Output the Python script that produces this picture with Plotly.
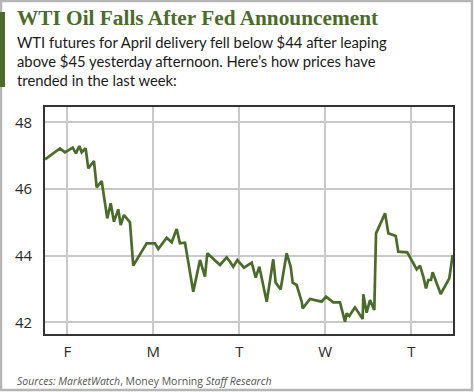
import plotly.graph_objects as go

# ---- data ----
day_pos = [0.741, 0.915, 0.973, 1.063, 1.101, 1.140, 1.167, 1.214, 1.244, 1.310,
           1.342, 1.400, 1.465, 1.505, 1.543, 1.593, 1.621, 1.659, 1.729, 1.767,
           1.923, 2.020, 2.058, 2.156, 2.214, 2.272, 2.310, 2.369, 2.465, 2.543,
           2.601, 2.628, 2.776, 2.853, 2.892, 2.930, 2.977, 3.055, 3.144, 3.191,
           3.233, 3.319, 3.395, 3.423, 3.481, 3.551, 3.598, 3.621, 3.667, 3.726,
           3.737, 3.822, 3.958, 4.008, 4.093, 4.171, 4.229, 4.249, 4.279, 4.345,
           4.435, 4.442, 4.481, 4.520, 4.570, 4.590, 4.695, 4.733, 4.819, 4.849,
           4.953, 5.063, 5.101, 5.140, 5.171, 5.198, 5.229, 5.248, 5.342, 5.442,
           5.481]
price = [46.89, 47.22, 47.10, 47.24, 47.07, 47.29, 47.10, 47.22, 46.62, 46.84,
         46.05, 46.24, 45.12, 45.57, 45.02, 45.39, 44.92, 45.22, 45.00, 43.70,
         44.37, 44.37, 44.20, 44.54, 44.40, 44.80, 44.37, 44.39, 42.92, 43.87,
         43.37, 44.07, 43.72, 43.95, 43.82, 43.67, 43.87, 43.64, 43.79, 43.34,
         43.67, 42.62, 43.89, 43.19, 42.99, 44.07, 43.67, 43.19, 43.12, 42.62,
         42.42, 42.70, 42.62, 42.77, 42.60, 42.60, 42.02, 42.27, 42.19, 42.45,
         42.10, 42.84, 42.29, 42.67, 42.37, 44.67, 45.27, 44.67, 44.59, 44.12,
         44.10, 43.59, 43.70, 43.37, 43.02, 43.27, 43.27, 43.50, 42.85, 43.32,
         44.02]
x_tick_vals = [1, 2, 3, 4, 5]
x_tick_text = ["F", "M", "T", "W", "T"]
y_tick_vals = [42, 44, 46, 48]

title_text = "WTI Oil Falls After Fed Announcement"
subtitle_lines = ["WTI futures for April delivery fell below $44 after leaping",
                  "above $45 yesterday afternoon. Here\u2019s how prices have",
                  "trended in the last week:"]
source_text = "<i>Sources: MarketWatch</i>, Money Morning <i>Staff Research</i>"

# ---- layout geometry ----
W, H = 474, 392
L, R, T, B = 45, 453, 107, 334
GREEN = "#4b6b2b"


def px(x):
    return (x - L) / (R - L)


def py(y):
    return (B - y) / (B - T)


fig = go.Figure()
fig.add_trace(go.Scatter(x=day_pos, y=price, mode="lines",
                         line=dict(color=GREEN, width=2.7), hoverinfo="skip"))

shapes = [
    # outer grey frame
    dict(type="rect", xref="paper", yref="paper", x0=px(1), x1=px(W - 2),
         y0=py(H - 2), y1=py(1), line=dict(color="#b5b5b5", width=2.5),
         fillcolor="rgba(0,0,0,0)", layer="below"),
    # green side bar
    dict(type="rect", xref="paper", yref="paper", x0=px(0), x1=px(5),
         y0=py(87), y1=py(12), line=dict(width=0), fillcolor=GREEN, layer="below"),
]

annotations = [
    dict(text="<b>" + title_text + "</b>", x=px(15), y=py(26), xref="paper", yref="paper",
         xanchor="left", yanchor="bottom", yshift=-6, showarrow=False,
         font=dict(family="Liberation Serif", size=21.3, color=GREEN)),
    dict(text="<br>".join(subtitle_lines), x=px(15), y=py(30.5), xref="paper", yref="paper",
         xanchor="left", yanchor="top", align="left", showarrow=False,
         font=dict(family="Lato", size=14.8, color="#1a1a1a")),
    dict(text=source_text, x=px(15), y=py(381), xref="paper", yref="paper",
         xanchor="left", yanchor="middle", showarrow=False,
         font=dict(family="Open Sans", size=10.5, color="#555555")),
]

fig.update_layout(
    width=W, height=H,
    margin=dict(l=L, r=W - R, t=T, b=H - B),
    paper_bgcolor="white", plot_bgcolor="white",
    showlegend=False,
    shapes=shapes, annotations=annotations,
    xaxis=dict(range=[0.741, 5.485], tickvals=x_tick_vals, ticktext=x_tick_text,
               showgrid=True, gridcolor="#c9c9c9", gridwidth=1.6, zeroline=False,
               showline=True, mirror=True, linecolor="#333333", linewidth=1.6,
               ticks="", ticklabelstandoff=3,
               tickfont=dict(family="Open Sans", size=15, color="#2a2a2a")),
    yaxis=dict(range=[41.65, 48.46], tickvals=y_tick_vals,
               showgrid=True, gridcolor="#c9c9c9", gridwidth=1.6, zeroline=False,
               showline=True, mirror=True, linecolor="#333333", linewidth=1.6,
               ticks="", ticklabelstandoff=8,
               tickfont=dict(family="Open Sans", size=15, color="#2a2a2a")),
)

fig.write_html("out.html", config={"displayModeBar": False},
               post_script="document.body.style.margin='0';document.body.style.overflow='hidden';")
